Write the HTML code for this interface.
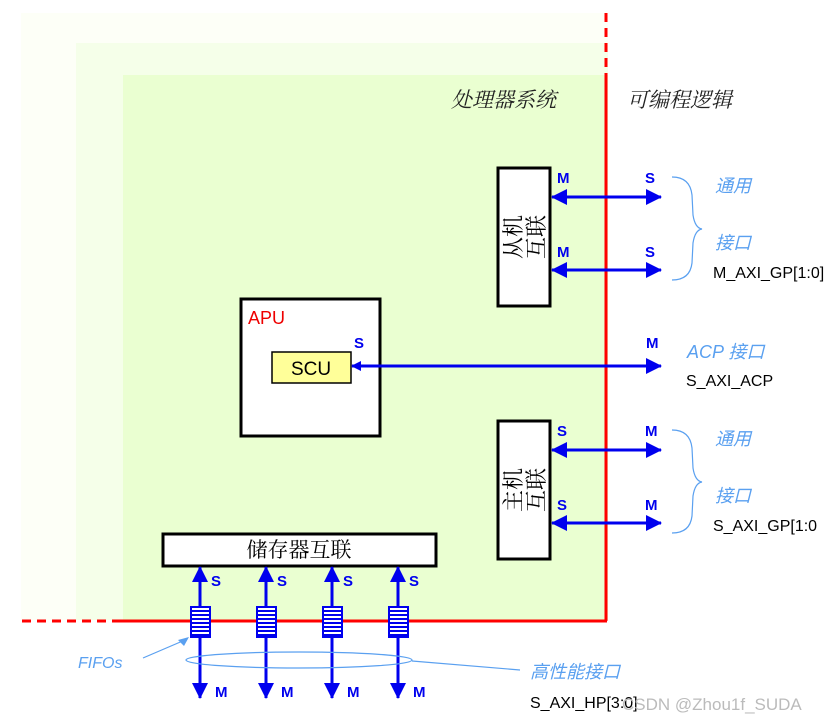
<!DOCTYPE html>
<html><head><meta charset="utf-8"><style>body{margin:0;background:#fff}svg{display:block}</style></head><body>
<svg width="834" height="725" viewBox="0 0 834 725" xmlns="http://www.w3.org/2000/svg" font-family="Liberation Sans, Noto Sans CJK SC, sans-serif">
<defs>
<marker id="a" markerWidth="10" markerHeight="10" refX="9" refY="5" orient="auto-start-reverse" markerUnits="userSpaceOnUse"><path d="M0,0 L10,5 L0,10 z" fill="#0000ee"/></marker>
<marker id="b" markerWidth="16" markerHeight="16" refX="15" refY="8" orient="auto-start-reverse" markerUnits="userSpaceOnUse"><path d="M0,0 L16,8 L0,16 z" fill="#0000ee"/></marker>
</defs>
<rect x="21" y="13" width="587" height="607" fill="#fdfff7"/>
<rect x="76" y="43" width="532" height="577" fill="#f5ffe9"/>
<rect x="123" y="75" width="485" height="545" fill="#eaffd1"/>
<line x1="606" y1="13" x2="606" y2="75" stroke="#f00" stroke-width="3" stroke-dasharray="9,6"/>
<line x1="606" y1="75" x2="606" y2="621" stroke="#f00" stroke-width="3"/>
<line x1="22" y1="621" x2="120" y2="621" stroke="#f00" stroke-width="3" stroke-dasharray="9,6"/>
<line x1="120" y1="621" x2="607" y2="621" stroke="#f00" stroke-width="3"/>
<g font-family="Liberation Serif, Noto Serif CJK SC, serif" font-style="italic" font-size="21" fill="#222">
<text x="451" y="107">处理器系统</text><text x="627" y="107">可编程逻辑</text></g>
<rect x="498" y="168" width="52" height="138" fill="#fff" stroke="#000" stroke-width="3"/>
<text transform="translate(521,237) rotate(-90)" text-anchor="middle" font-family="Liberation Serif, Noto Serif CJK SC, serif" font-size="22">从机</text>
<text transform="translate(544,237) rotate(-90)" text-anchor="middle" font-family="Liberation Serif, Noto Serif CJK SC, serif" font-size="22">互联</text>
<rect x="498" y="421" width="52" height="138" fill="#fff" stroke="#000" stroke-width="3"/>
<text transform="translate(521,490) rotate(-90)" text-anchor="middle" font-family="Liberation Serif, Noto Serif CJK SC, serif" font-size="22">主机</text>
<text transform="translate(544,490) rotate(-90)" text-anchor="middle" font-family="Liberation Serif, Noto Serif CJK SC, serif" font-size="22">互联</text>
<rect x="241" y="299" width="139" height="137" fill="#fff" stroke="#000" stroke-width="3"/>
<text x="248" y="324" font-size="18" fill="#e00">APU</text>
<rect x="272" y="352" width="79" height="31" fill="#ffff99" stroke="#000" stroke-width="1.5"/>
<text x="311" y="375" font-size="19" text-anchor="middle">SCU</text>
<rect x="163" y="534" width="273" height="32" fill="#fff" stroke="#000" stroke-width="3"/>
<text x="299" y="557" font-size="21" text-anchor="middle" font-family="Liberation Serif, Noto Serif CJK SC, serif">储存器互联</text>
<g stroke="#0000ee" stroke-width="3">
<line x1="552" y1="197" x2="661" y2="197" marker-start="url(#b)" marker-end="url(#b)"/>
<line x1="552" y1="270" x2="661" y2="270" marker-start="url(#b)" marker-end="url(#b)"/>
<line x1="352" y1="366" x2="661" y2="366" marker-start="url(#a)" marker-end="url(#b)"/>
<line x1="552" y1="450" x2="661" y2="450" marker-start="url(#b)" marker-end="url(#b)"/>
<line x1="552" y1="523" x2="661" y2="523" marker-start="url(#b)" marker-end="url(#b)"/>
<line x1="200" y1="567" x2="200" y2="698" marker-start="url(#b)" marker-end="url(#b)"/>
<line x1="266" y1="567" x2="266" y2="698" marker-start="url(#b)" marker-end="url(#b)"/>
<line x1="332" y1="567" x2="332" y2="698" marker-start="url(#b)" marker-end="url(#b)"/>
<line x1="398" y1="567" x2="398" y2="698" marker-start="url(#b)" marker-end="url(#b)"/>
</g>
<g stroke="#0000ee" stroke-width="2">
<rect x="191" y="607" width="19" height="30" fill="#fff"/><rect x="257" y="607" width="19" height="30" fill="#fff"/>
<rect x="323" y="607" width="19" height="30" fill="#fff"/><rect x="389" y="607" width="19" height="30" fill="#fff"/>
<path d="M192,611h17M192,615h17M192,619h17M192,623h17M192,627h17M192,631h17M192,635h17"/>
<path d="M258,611h17M258,615h17M258,619h17M258,623h17M258,627h17M258,631h17M258,635h17"/>
<path d="M324,611h17M324,615h17M324,619h17M324,623h17M324,627h17M324,631h17M324,635h17"/>
<path d="M390,611h17M390,615h17M390,619h17M390,623h17M390,627h17M390,631h17M390,635h17"/>
</g>
<g font-size="15" font-weight="bold" fill="#0000ee">
<text x="557" y="183">M</text><text x="645" y="183">S</text>
<text x="557" y="257">M</text><text x="645" y="257">S</text>
<text x="354" y="348">S</text><text x="646" y="348">M</text>
<text x="557" y="436">S</text><text x="645" y="436">M</text>
<text x="557" y="510">S</text><text x="645" y="510">M</text>
<text x="211" y="586">S</text><text x="277" y="586">S</text><text x="343" y="586">S</text><text x="409" y="586">S</text>
<text x="215" y="697">M</text><text x="281" y="697">M</text><text x="347" y="697">M</text><text x="413" y="697">M</text>
</g>
<g fill="none" stroke="#5aa0f0" stroke-width="1.2">
<path d="M672,177 Q690,177 692,195 L693,215 Q695,228 702,229 Q695,230 693,243 L692,263 Q690,280 672,280"/>
<path d="M672,430 Q690,430 692,448 L693,468 Q695,481 702,482 Q695,483 693,496 L692,516 Q690,533 672,533"/>
<ellipse cx="299" cy="660" rx="113" ry="8"/>
<line x1="412" y1="661" x2="520" y2="670"/>
<line x1="143" y1="658" x2="185" y2="640"/>
</g>
<path d="M189,637 L178,640 L184,646 z" fill="#5aa0f0"/>
<g font-family="Liberation Sans, Noto Sans CJK SC, sans-serif" font-style="italic" font-size="18" fill="#5aa0f0">
<text x="715" y="192">通用</text><text x="715" y="249">接口</text>
<text x="687" y="358">ACP  接口</text>
<text x="715" y="445">通用</text><text x="715" y="502">接口</text>
<text x="530" y="678">高性能接口</text>
<text x="78" y="668" font-size="16">FIFOs</text>
</g>
<g font-size="16" fill="#000">
<text x="713" y="278">M_AXI_GP[1:0]</text>
<text x="686" y="386">S_AXI_ACP</text>
<text x="713" y="531">S_AXI_GP[1:0</text>
<text x="530" y="708">S_AXI_HP[3:0]</text>
</g>
<text x="622" y="710" font-size="17" fill="#bbb">CSDN @Zhou1f_SUDA</text>
</svg>
</body></html>
